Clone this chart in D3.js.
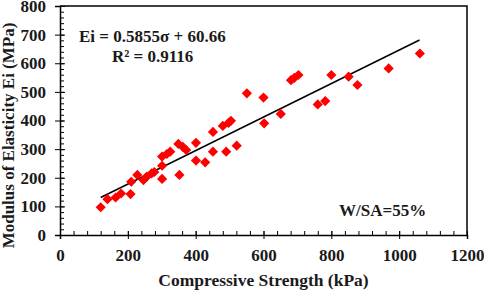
<!DOCTYPE html>
<html lang="en">
<head>
<meta charset="UTF-8">
<title>Modulus of Elasticity vs Compressive Strength</title>
<script src="https://d3js.org/d3.v7.min.js"></script>
<style>
  body { margin: 0; background: #fff; }
  text { font-family: "Liberation Serif", "Times New Roman", serif; font-weight: bold; fill: #1a1a1a; }
  .domain, .tick line { stroke: #000; }
</style>
</head>
<body>
<div id="chart"></div>
<script>
// values
const strength = [120, 140, 164, 180, 208, 210, 228, 246, 256, 270, 278, 301, 301, 301, 315, 325,
  352, 349, 362, 372, 401, 401, 428, 451, 451, 480, 490, 497, 504, 521, 551, 600, 602, 651,
  681, 691, 703, 760, 782, 800, 851, 877, 969, 1061];
const modulus = [97, 125, 131, 145, 143, 186, 210, 192, 204, 215, 220, 196, 242, 274, 283, 291,
  210, 318, 308, 297, 322, 260, 254, 360, 291, 381, 291, 392, 399, 312, 495, 480, 390, 423,
  541, 549, 559, 456, 468, 559, 553, 524, 582, 634];
const xTicks = [0, 200, 400, 600, 800, 1000, 1200];
const yTicks = [0, 100, 200, 300, 400, 500, 600, 700, 800];
const slope = 0.5855, intercept = 60.66;
const fitRange = [120, 1060];

const W = 484, H = 290;
const margin = {top: 6, right: 17, bottom: 55, left: 60};
const width = W - margin.left - margin.right,
      height = H - margin.top - margin.bottom;

const svg = d3.select("#chart").append("svg")
  .attr("width", W).attr("height", H);
const g = svg.append("g").attr("transform", `translate(${margin.left},${margin.top})`);

const x = d3.scaleLinear().domain([0, 1200]).range([0, width]);
const y = d3.scaleLinear().domain([0, 800]).range([height, 0]);

// frame (top and right)
g.append("path")
  .attr("d", `M0,0H${width}V${height}`)
  .attr("fill", "none").attr("stroke", "#000").attr("stroke-width", 1.5);

// minor ticks, inside
g.append("g").attr("transform", `translate(0,${height})`)
  .call(d3.axisTop(x).tickValues(d3.range(0, 1201, 40)).tickSize(4).tickFormat(""))
  .call(a => a.select(".domain").remove());
g.append("g")
  .call(d3.axisRight(y).tickValues(d3.range(0, 801, 20)).tickSize(4).tickFormat(""))
  .call(a => a.select(".domain").remove());

// major axes
const xAxis = g.append("g").attr("transform", `translate(0,${height})`)
  .call(d3.axisBottom(x).tickValues(xTicks).tickFormat(d3.format("d")).tickSize(4).tickPadding(10));
xAxis.selectAll(".tick line").attr("y1", -4);
const yAxis = g.append("g")
  .call(d3.axisLeft(y).tickValues(yTicks).tickSize(5).tickPadding(9));
yAxis.selectAll(".tick line").attr("x1", 5);
g.selectAll(".domain").attr("stroke-width", 1.5);
g.selectAll(".tick text").style("font-size", "17px").attr("fill", "#1a1a1a");

// trend line
g.append("line")
  .attr("x1", x(fitRange[0])).attr("y1", y(slope * fitRange[0] + intercept))
  .attr("x2", x(fitRange[1])).attr("y2", y(slope * fitRange[1] + intercept))
  .attr("stroke", "#000").attr("stroke-width", 1.5);

// points
const diamond = d3.symbol().type(d3.symbolSquare).size(52);
g.append("g").selectAll("path")
  .data(strength.map((s, i) => [s, modulus[i]]))
  .join("path")
    .attr("d", diamond)
    .attr("transform", d => `translate(${x(d[0])},${y(d[1])}) rotate(45)`)
    .attr("fill", "#ff0000");

// annotations
svg.append("text").attr("x", 79).attr("y", 42).style("font-size", "17px")
  .text("Ei = 0.5855σ + 60.66");
svg.append("text").attr("x", 112).attr("y", 62).style("font-size", "17px")
  .text("R² = 0.9116");
svg.append("text").attr("x", 339).attr("y", 216).style("font-size", "17px")
  .text("W/SA=55%");

// axis titles
svg.append("text")
  .attr("x", margin.left + width / 2).attr("y", 286)
  .attr("text-anchor", "middle").style("font-size", "17.5px")
  .text("Compressive Strength (kPa)");
svg.append("text")
  .attr("transform", `translate(14,${margin.top + height / 2 + 15}) rotate(-90)`)
  .attr("text-anchor", "middle").style("font-size", "17px")
  .text("Modulus of  Elasticity Ei (MPa)");
</script>
</body>
</html>
